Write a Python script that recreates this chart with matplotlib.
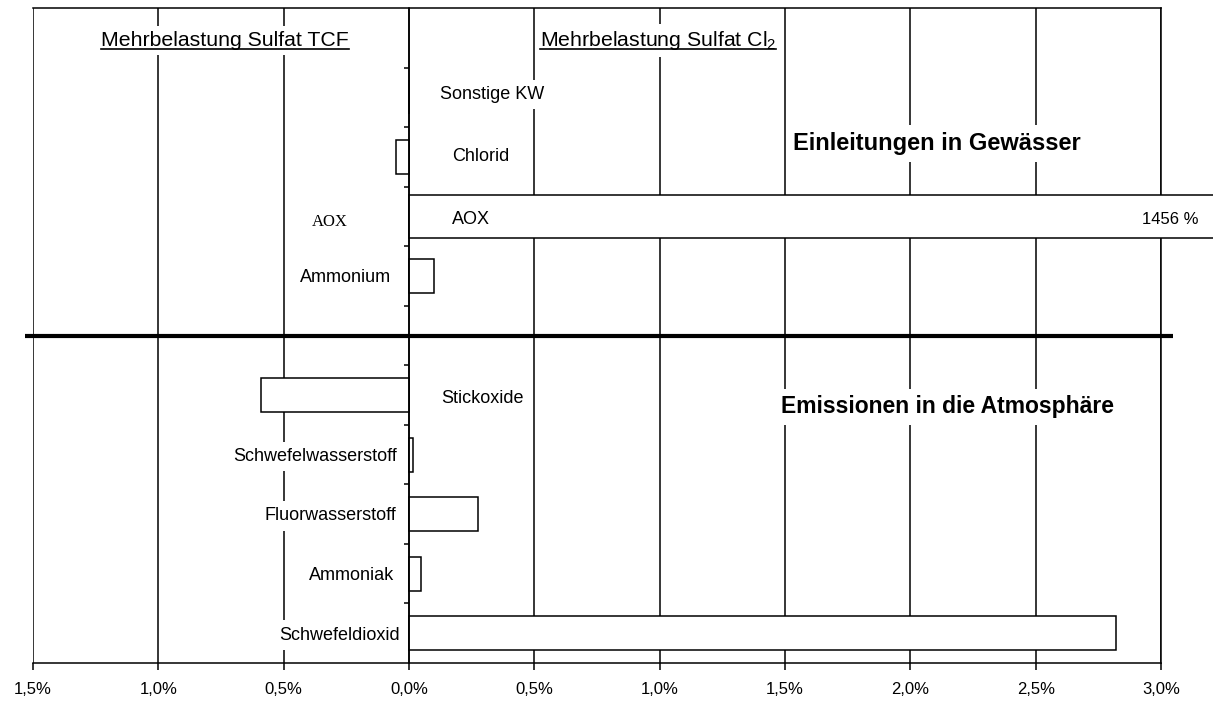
import numpy as np
import matplotlib
matplotlib.use("Agg")
import matplotlib.pyplot as plt
from matplotlib.lines import Line2D
from matplotlib.transforms import IdentityTransform

plt.rcParams['font.family'] = ['Liberation Sans', 'DejaVu Sans']
plt.rcParams['mathtext.fontset'] = 'custom'
plt.rcParams['mathtext.rm'] = 'Liberation Sans'
plt.rcParams['mathtext.it'] = 'Liberation Sans:italic'
plt.rcParams['mathtext.bf'] = 'Liberation Sans:bold'

# ---------------- data ----------------
categories = ["Sonstige KW", "Chlorid", "AOX", "Ammonium",
              "Stickoxide", "Schwefelwasserstoff", "Fluorwasserstoff",
              "Ammoniak", "Schwefeldioxid"]
values = [0.0, -0.05, 1456.0, 0.10,
          -0.59, 0.015, 0.275, 0.048, 2.82]          # percent
groups = ["Einleitungen in Gewässer"] * 4 + ["Emissionen in die Atmosphäre"] * 5
x_ticks = [-1.5, -1.0, -0.5, 0.0, 0.5, 1.0, 1.5, 2.0, 2.5, 3.0]
x_tick_labels = ["1,5%", "1,0%", "0,5%", "0,0%", "0,5%",
                 "1,0%", "1,5%", "2,0%", "2,5%", "3,0%"]
header_left = "Mehrbelastung Sulfat TCF"
header_right = "Mehrbelastung Sulfat Cl$_2$"
aox_note = "1456 %"
aox_left_label = "AOX"

# ---------------- layout ----------------
group_names = ["Einleitungen in Gewässer", "Emissionen in die Atmosphäre"]
slots = [i + 1 + group_names.index(g) for i, g in enumerate(groups)]
bar_heights = [0.71 if c == "AOX" else 0.57 for c in categories]
# label x-position (data) and alignment
label_pos = {
    "Sonstige KW": (0.124, 'left'),
    "Chlorid": (0.172, 'left'),
    "AOX": (0.172, 'left'),
    "Ammonium": (-0.072, 'right'),
    "Stickoxide": (0.128, 'left'),
    "Schwefelwasserstoff": (-0.048, 'right'),
    "Fluorwasserstoff": (-0.052, 'right'),
    "Ammoniak": (-0.060, 'right'),
    "Schwefeldioxid": (-0.036, 'right'),
}
label_dy = {"Sonstige KW": -0.05, "Chlorid": 0.0, "AOX": 0.05, "Ammonium": 0.03,
            "Stickoxide": 0.05, "Schwefelwasserstoff": 0.03, "Fluorwasserstoff": 0.03,
            "Ammoniak": 0.03, "Schwefeldioxid": 0.03}

W, H = 1213, 702
fig = plt.figure(figsize=(W / 100, H / 100), dpi=100)
ax = fig.add_axes([33 / W, 1 - 663 / H, 1128 / W, 655 / H])
ax.set_xlim(-1.5, 3.0)
ax.set_ylim(10.5, -0.5)

lw = 1.1
# grid
ax.set_axisbelow(True)
ax.grid(axis='x', color='black', linewidth=lw, zorder=0.5)
ax.set_xticks(x_ticks, labels=x_tick_labels)
ax.tick_params(axis='x', direction='out', length=5, width=lw, pad=9,
               labelsize=12, colors='black')

# y axis at zero with small ticks at slot boundaries
ax.spines['left'].set_position(('data', 0))
ax.spines['left'].set_zorder(6)
for s in ['top', 'right', 'bottom', 'left']:
    ax.spines[s].set_linewidth(lw)
ax.spines['right'].set_zorder(2.5)
ax.set_yticks(np.arange(0.5, 10.5, 1.0))
ax.tick_params(axis='y', direction='out', length=3.5, width=lw, labelleft=False)

# bars
for c, v, s, h in zip(categories, values, slots, bar_heights):
    ax.barh(s, v, height=h, color='white', edgecolor='black',
            linewidth=lw, zorder=3, clip_on=False)

# category labels
tb = dict(boxstyle='square,pad=0.35', fc='white', ec='none')
for c, s in zip(categories, slots):
    x, ha = label_pos[c]
    ax.text(x, s + label_dy[c], c, ha=ha, va='center', fontsize=13,
            zorder=4, bbox=tb)

# serif AOX on left, value note on right
aox_slot = slots[categories.index("AOX")]
ax.text(-0.315, aox_slot + 0.1, aox_left_label, ha='center', va='center',
        fontsize=12, family=['Liberation Serif', 'DejaVu Serif'], zorder=4)
ax.text(3.036, aox_slot + 0.05, aox_note, ha='center', va='center',
        fontsize=12, zorder=5, clip_on=False)

# group titles
gb = dict(boxstyle='square,pad=0.3', fc='white', ec='none')
ax.text(1.532, 1.77, group_names[0], ha='left', va='center', fontsize=17,
        fontweight='bold', zorder=4, bbox=gb)
ax.text(1.484, 6.2, group_names[1], ha='left', va='center', fontsize=16.5,
        fontweight='bold', zorder=4, bbox=gb)

# separator between groups
sep = slots[3] + 1
ax.plot([-0.007, 1.0106], [sep, sep], color='black', linewidth=3.0,
        transform=ax.get_yaxis_transform(), clip_on=False, zorder=7,
        solid_capstyle='butt')

# headers (underlined)
hb = dict(boxstyle='square,pad=0.25', fc='white', ec='none')
t1 = ax.text(-0.734, 0.14, header_left, ha='center', va='baseline',
             fontsize=15.3, zorder=4, bbox=hb)
t2 = ax.text(0.994, 0.14, header_right, ha='center', va='baseline',
             fontsize=15.3, zorder=4, bbox=hb)

fig.canvas.draw()
r = fig.canvas.get_renderer()
for t in (t1, t2):
    bb = t.get_window_extent(r)
    x, y = t.get_position()
    base = ax.transData.transform((x, y))[1]
    fig.add_artist(Line2D([bb.x0, bb.x1], [base - 3, base - 3],
                          transform=IdentityTransform(), color='black',
                          linewidth=1.2, zorder=8))

fig.savefig("out.png", dpi=100)
